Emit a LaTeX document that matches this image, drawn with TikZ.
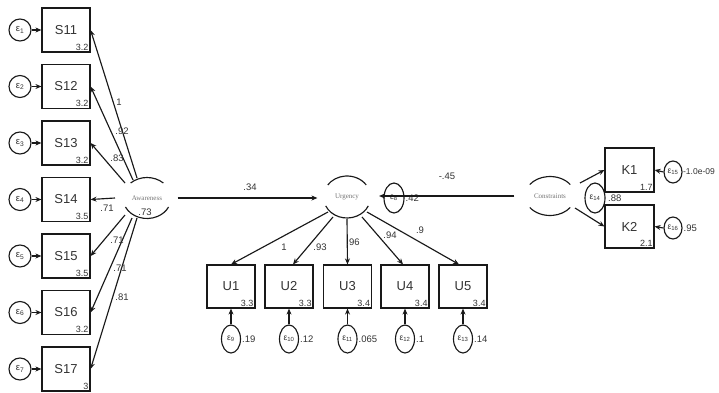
\documentclass[tikz,border=0pt]{standalone}
\usepackage{fontspec}
\setmainfont{Liberation Sans}
\newfontfamily\serifnm{Liberation Serif}
\usetikzlibrary{arrows.meta,shapes.geometric}
\begin{document}
\begin{tikzpicture}[x=1pt,y=1pt,
  line width=1.15pt, draw=black!90, text=black!80,
  tip/.style={-{Stealth[length=6pt,width=5pt]}},
  obs/.style={draw, rectangle, minimum width=48pt, minimum height=44pt, inner sep=0pt, font=\fontsize{13}{13}\selectfont},
  errc/.style={draw, circle, minimum size=22pt, inner sep=0pt, font=\fontsize{9.5}{9.5}\selectfont},
  errv/.style={draw, ellipse, minimum width=19pt, minimum height=28pt, inner sep=0pt, font=\fontsize{8.5}{8.5}\selectfont},
  erre/.style={draw, ellipse, inner sep=0pt, font=\fontsize{8.5}{8.5}\selectfont},
  lat/.style={ellipse, minimum width=48pt, minimum height=41pt, inner sep=0pt, font=\serifnm\fontsize{7}{7}\selectfont, text=black!55},
  num/.style={font=\fontsize{9.5}{9.5}\selectfont, inner sep=0pt},
  mean/.style={font=\fontsize{9}{9}\selectfont, inner sep=1.5pt, anchor=south east},
]
\useasboundingbox (0,0) rectangle (719,392);

% ---- latent variables
\node[lat] (aw) at (147,194) {Awareness};
\node[lat] (ur) at (347,195) {Urgency};
\node[lat] (con) at (550,196) {Constraints};
\draw ([shift={(47:24 and 20.5)}]aw.center) arc[start angle=47,end angle=133,x radius=24,y radius=20.5];
\draw ([shift={(206:24 and 20.5)}]aw.center) arc[start angle=206,end angle=334,x radius=24,y radius=20.5];
\draw ([shift={(35:23.5 and 21)}]ur.center) arc[start angle=35,end angle=145,x radius=23.5,y radius=21];
\draw ([shift={(205:23.5 and 21)}]ur.center) arc[start angle=205,end angle=335,x radius=23.5,y radius=21];
\draw ([shift={(36:25 and 19.5)}]con.center) arc[start angle=36,end angle=144,x radius=25,y radius=19.5];
\draw ([shift={(216:25 and 19.5)}]con.center) arc[start angle=216,end angle=324,x radius=25,y radius=19.5];
\node[num] (v73) at (145,180) {.73};

% ---- S indicators
\foreach \n/\y/\m/\e in {11/362/3.2/1, 12/305.5/3.2/2, 13/249/3.2/3, 14/192.5/3.5/4, 15/136/3.5/5, 16/79.5/3.2/6, 17/23/3/7}{
  \node[obs] (s\n) at (66,\y) {S\n};
  \node[mean] (ms\n) at (s\n.south east) {\m};
  \node[errc] (es\n) at (20,\y) {ε\textsubscript{\e}};
  \draw[tip] (es\n) -- (s\n);
}
\draw[tip] ([shift={(-10,20)}]aw.center) -- (s11.east);
\draw[tip] ([shift={(-14,18)}]aw.center) -- (s12.east);
\draw[tip] ([shift={(-22,15)}]aw.center) -- (s13.east);
\draw[tip] ([shift={(-32,0)}]aw.center) -- (s14.east);
\draw[tip] ([shift={(-22,-17)}]aw.center) -- (s15.east);
\draw[tip] ([shift={(-15,-20)}]aw.center) -- (s16.east);
\draw[tip] ([shift={(-10,-20)}]aw.center) -- (s17.east);
\node[num] (l11) at (119,290) {1};
\node[num] (l12) at (122,261) {.92};
\node[num] (l13) at (117,234) {.83};
\node[num] (l14) at (107,184) {.71};
\node[num] (l15) at (117,152) {.71};
\node[num] (l16) at (120,124) {.71};
\node[num] (l17) at (122,95) {.81};

% ---- structural paths
\draw[tip] ([xshift=6pt]aw.east) -- ([xshift=-5pt]aw.east -| ur.west);
\node[num] (p34) at (250,205) {.34};
\node[erre, minimum width=20pt, minimum height=30pt] (e8) at (394,194) {ε\textsubscript{8}};
\node[num, anchor=west] (v42) at ([xshift=0.5pt]e8.east) {.42};
\draw[tip] ([xshift=-11pt]con.west) -- ([xshift=7.5pt]con.west -| ur.east);
\node[num] (p45) at (447,216) {-.45};

% ---- U indicators
\foreach \i/\x/\m/\e/\v in {1/231/3.3/9/.19, 2/289/3.3/10/.12, 3/347.5/3.4/11/.065, 4/405/3.4/12/.1, 5/463/3.4/13/.14}{
  \node[obs, minimum height=43pt] (u\i) at (\x,105.5) {U\i};
  \node[mean] (mu\i) at (u\i.south east) {\m};
  \node[errv] (eu\i) at (\x,53) {ε\textsubscript{\e}};
  \node[num, anchor=west] (vu\i) at ([xshift=0.5pt]eu\i.east) {\v};
  \draw[tip] (eu\i.north) -- (u\i.south);
}
\draw[tip] ([shift={(-19,-15)}]ur.center) -- (u1.north);
\draw[tip] ([shift={(-14,-20)}]ur.center) -- ([xshift=4pt]u2.north);
\draw[tip] ([shift={(0,-22)}]ur.center) -- (u3.north);
\draw[tip] ([shift={(15,-20)}]ur.center) -- ([xshift=-2pt]u4.north);
\draw[tip] ([shift={(20,-15)}]ur.center) -- ([xshift=-4pt]u5.north);
\node[num] (lu1) at (284,145) {1};
\node[num] (lu2) at (320,145) {.93};
\node[num] (lu3) at (353,150) {.96};
\node[num] (lu4) at (390,157) {.94};
\node[num] (lu5) at (420,162) {.9};

% ---- K indicators
\node[obs, minimum width=49pt] (k1) at (629.5,222) {K1};
\node[mean] (mk1) at (k1.south east) {1.7};
\node[obs, minimum width=49pt, minimum height=43pt] (k2) at (629.5,165.5) {K2};
\node[mean] (mk2) at (k2.south east) {2.1};
\node[erre, minimum width=18pt, minimum height=22pt] (e15) at (673,220) {ε\textsubscript{15}};
\node[erre, minimum width=18pt, minimum height=22pt] (e16) at (673,164) {ε\textsubscript{16}};
\node[num, anchor=west, font=\fontsize{8.5}{8.5}\selectfont] (v15) at (e15.east) {-1.0e-09};
\node[num, anchor=west] (v16) at ([xshift=0.5pt]e16.east) {.95};
\draw[tip] (e15.west) -- (k1.east);
\draw[tip] (e16.west) -- (k2.east);
\node[erre, minimum width=20pt, minimum height=30pt] (e14) at (595,194) {ε\textsubscript{14}};
\node[num, anchor=west] (v88) at ([xshift=2pt]e14.east) {.88};
\draw[tip] ([shift={(30,13)}]con.center) -- (k1.west);
\draw[tip] ([shift={(25,-12)}]con.center) -- (k2.west);
\end{tikzpicture}
\end{document}
